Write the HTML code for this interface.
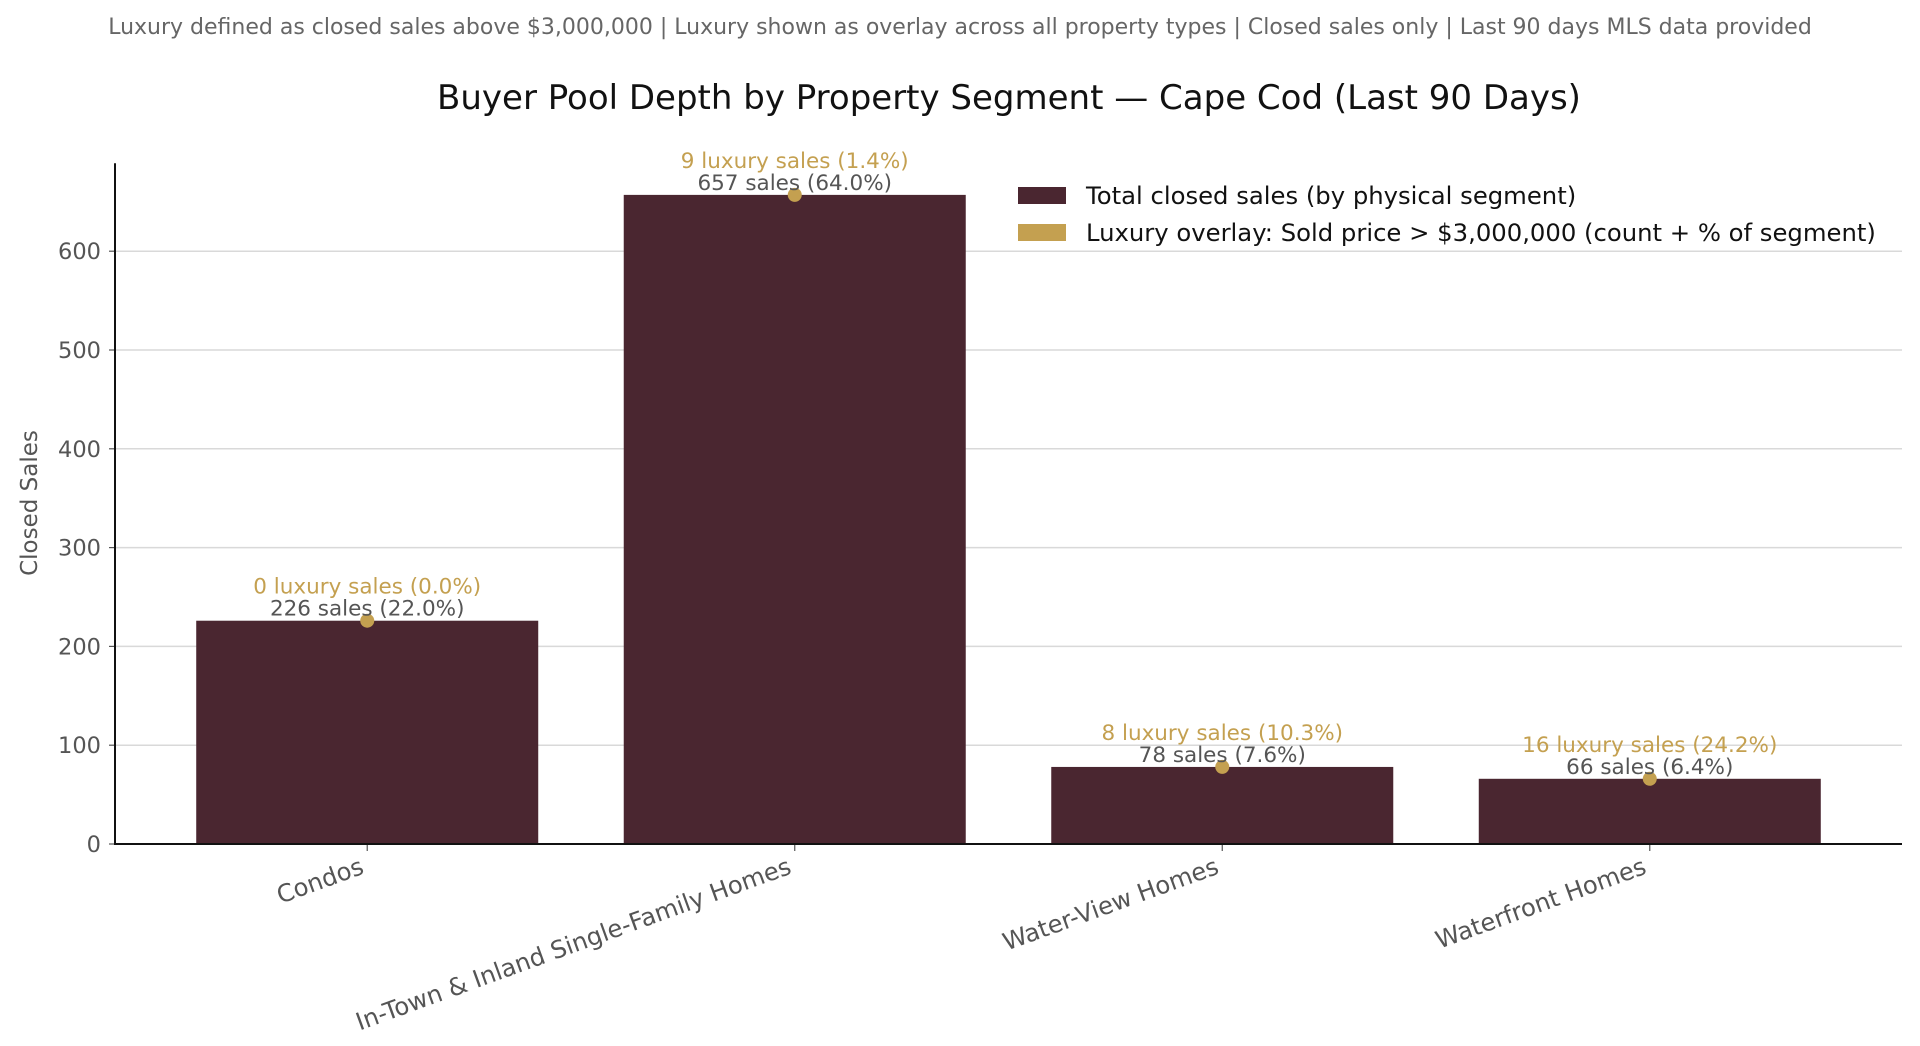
<!DOCTYPE html>
<html><head><meta charset="utf-8"><style>
html,body{margin:0;padding:0;background:#fff;}
svg{display:block;font-family:"DejaVu Sans","Liberation Sans",sans-serif;}
</style></head><body>
<svg id="chart" width="1920" height="1046" viewBox="0 0 1920 1046">
<text x="960" y="34" text-anchor="middle" font-size="22" fill="#666">Luxury defined as closed sales above $3,000,000 | Luxury shown as overlay across all property types | Closed sales only | Last 90 days MLS data provided</text>
<text x="1009" y="109" text-anchor="middle" font-size="34" fill="#111">Buyer Pool Depth by Property Segment — Cape Cod (Last 90 Days)</text>
<text transform="translate(37,503) rotate(-90)" text-anchor="middle" font-size="23" fill="#555">Closed Sales</text>
<g id="grid"></g><g id="bars"></g><g id="axes"></g><g id="labels"></g>
<g>
<rect x="1018" y="187" width="48" height="17" fill="#4a2630"/>
<text x="1086" y="204" font-size="24.3" fill="#111">Total closed sales (by physical segment)</text>
<rect x="1018" y="224" width="48" height="17" fill="#c4a050"/>
<text x="1086" y="241" font-size="24.3" fill="#111">Luxury overlay: Sold price &gt; $3,000,000 (count + % of segment)</text>
</g>
</svg>
<script>
const categories=["Condos","In-Town & Inland Single-Family Homes","Water-View Homes","Waterfront Homes"];
const totals=[226,657,78,66];
const shares=["22.0%","64.0%","7.6%","6.4%"];
const luxuryCounts=[0,9,8,16];
const luxuryShares=["0.0%","1.4%","10.3%","24.2%"];
const yTicks=[0,100,200,300,400,500,600];
const NS="http://www.w3.org/2000/svg";
const X0=115,X1=1902,Y0=844,PER=0.988;
const xMin=-0.59,xMax=3.59;
function xs(i){return X0+(i-xMin)/(xMax-xMin)*(X1-X0);}
function ys(v){return Y0-v*PER;}
const bw=0.8*(xs(1)-xs(0));
function mk(tag,attrs,parent){const e=document.createElementNS(NS,tag);for(const k in attrs)e.setAttribute(k,attrs[k]);document.getElementById(parent).appendChild(e);return e;}
yTicks.forEach(t=>{
  const g=mk('line',{x1:X0,x2:X1,y1:ys(t),y2:ys(t),stroke:'#d9d9d9','stroke-width':1.5},'grid');
  
  
  const tk=mk('line',{x1:X0-6,x2:X0,y1:ys(t),y2:ys(t),stroke:'#555','stroke-width':1.2},'axes');
  
  
  const tl=mk('text',{x:X0-14,y:ys(t)+8,'text-anchor':'end','font-size':22.5,fill:'#555'},'axes');
  tl.textContent=t;
  
  
});
categories.forEach((c,i)=>{
  const cx=xs(i);
  const r=mk('rect',{x:cx-bw/2,y:ys(totals[i]),width:bw,height:ys(0)-ys(totals[i]),fill:'#4a2630'},'bars');
  
  
  const d=mk('circle',{cx:cx,cy:ys(totals[i]),r:7,fill:'#c4a050'},'labels');
  
  
  const t1=mk('text',{x:cx,y:ys(totals[i])-5,'text-anchor':'middle','font-size':21.5,fill:'#555'},'labels');
  t1.textContent=totals[i]+' sales ('+shares[i]+')';
  
  
  const t2=mk('text',{x:cx,y:ys(totals[i])-27,'text-anchor':'middle','font-size':21.5,fill:'#c4a050'},'labels');
  t2.textContent=luxuryCounts[i]+' luxury sales ('+luxuryShares[i]+')';
  
  
  const tk=mk('line',{x1:cx,x2:cx,y1:Y0,y2:Y0+7,stroke:'#555','stroke-width':1.2},'axes');
  
  
  const xl=mk('text',{transform:'translate('+(cx-2)+','+(Y0+29)+') rotate(-20)','text-anchor':'end','font-size':24.3,fill:'#555'},'axes');
  xl.textContent=c;
  
  
});
const sp=mk('path',{d:'M'+X0+','+ys(689)+'V'+Y0+'H'+X1,fill:'none',stroke:'#111','stroke-width':2},'axes');


</script>
</body></html>
